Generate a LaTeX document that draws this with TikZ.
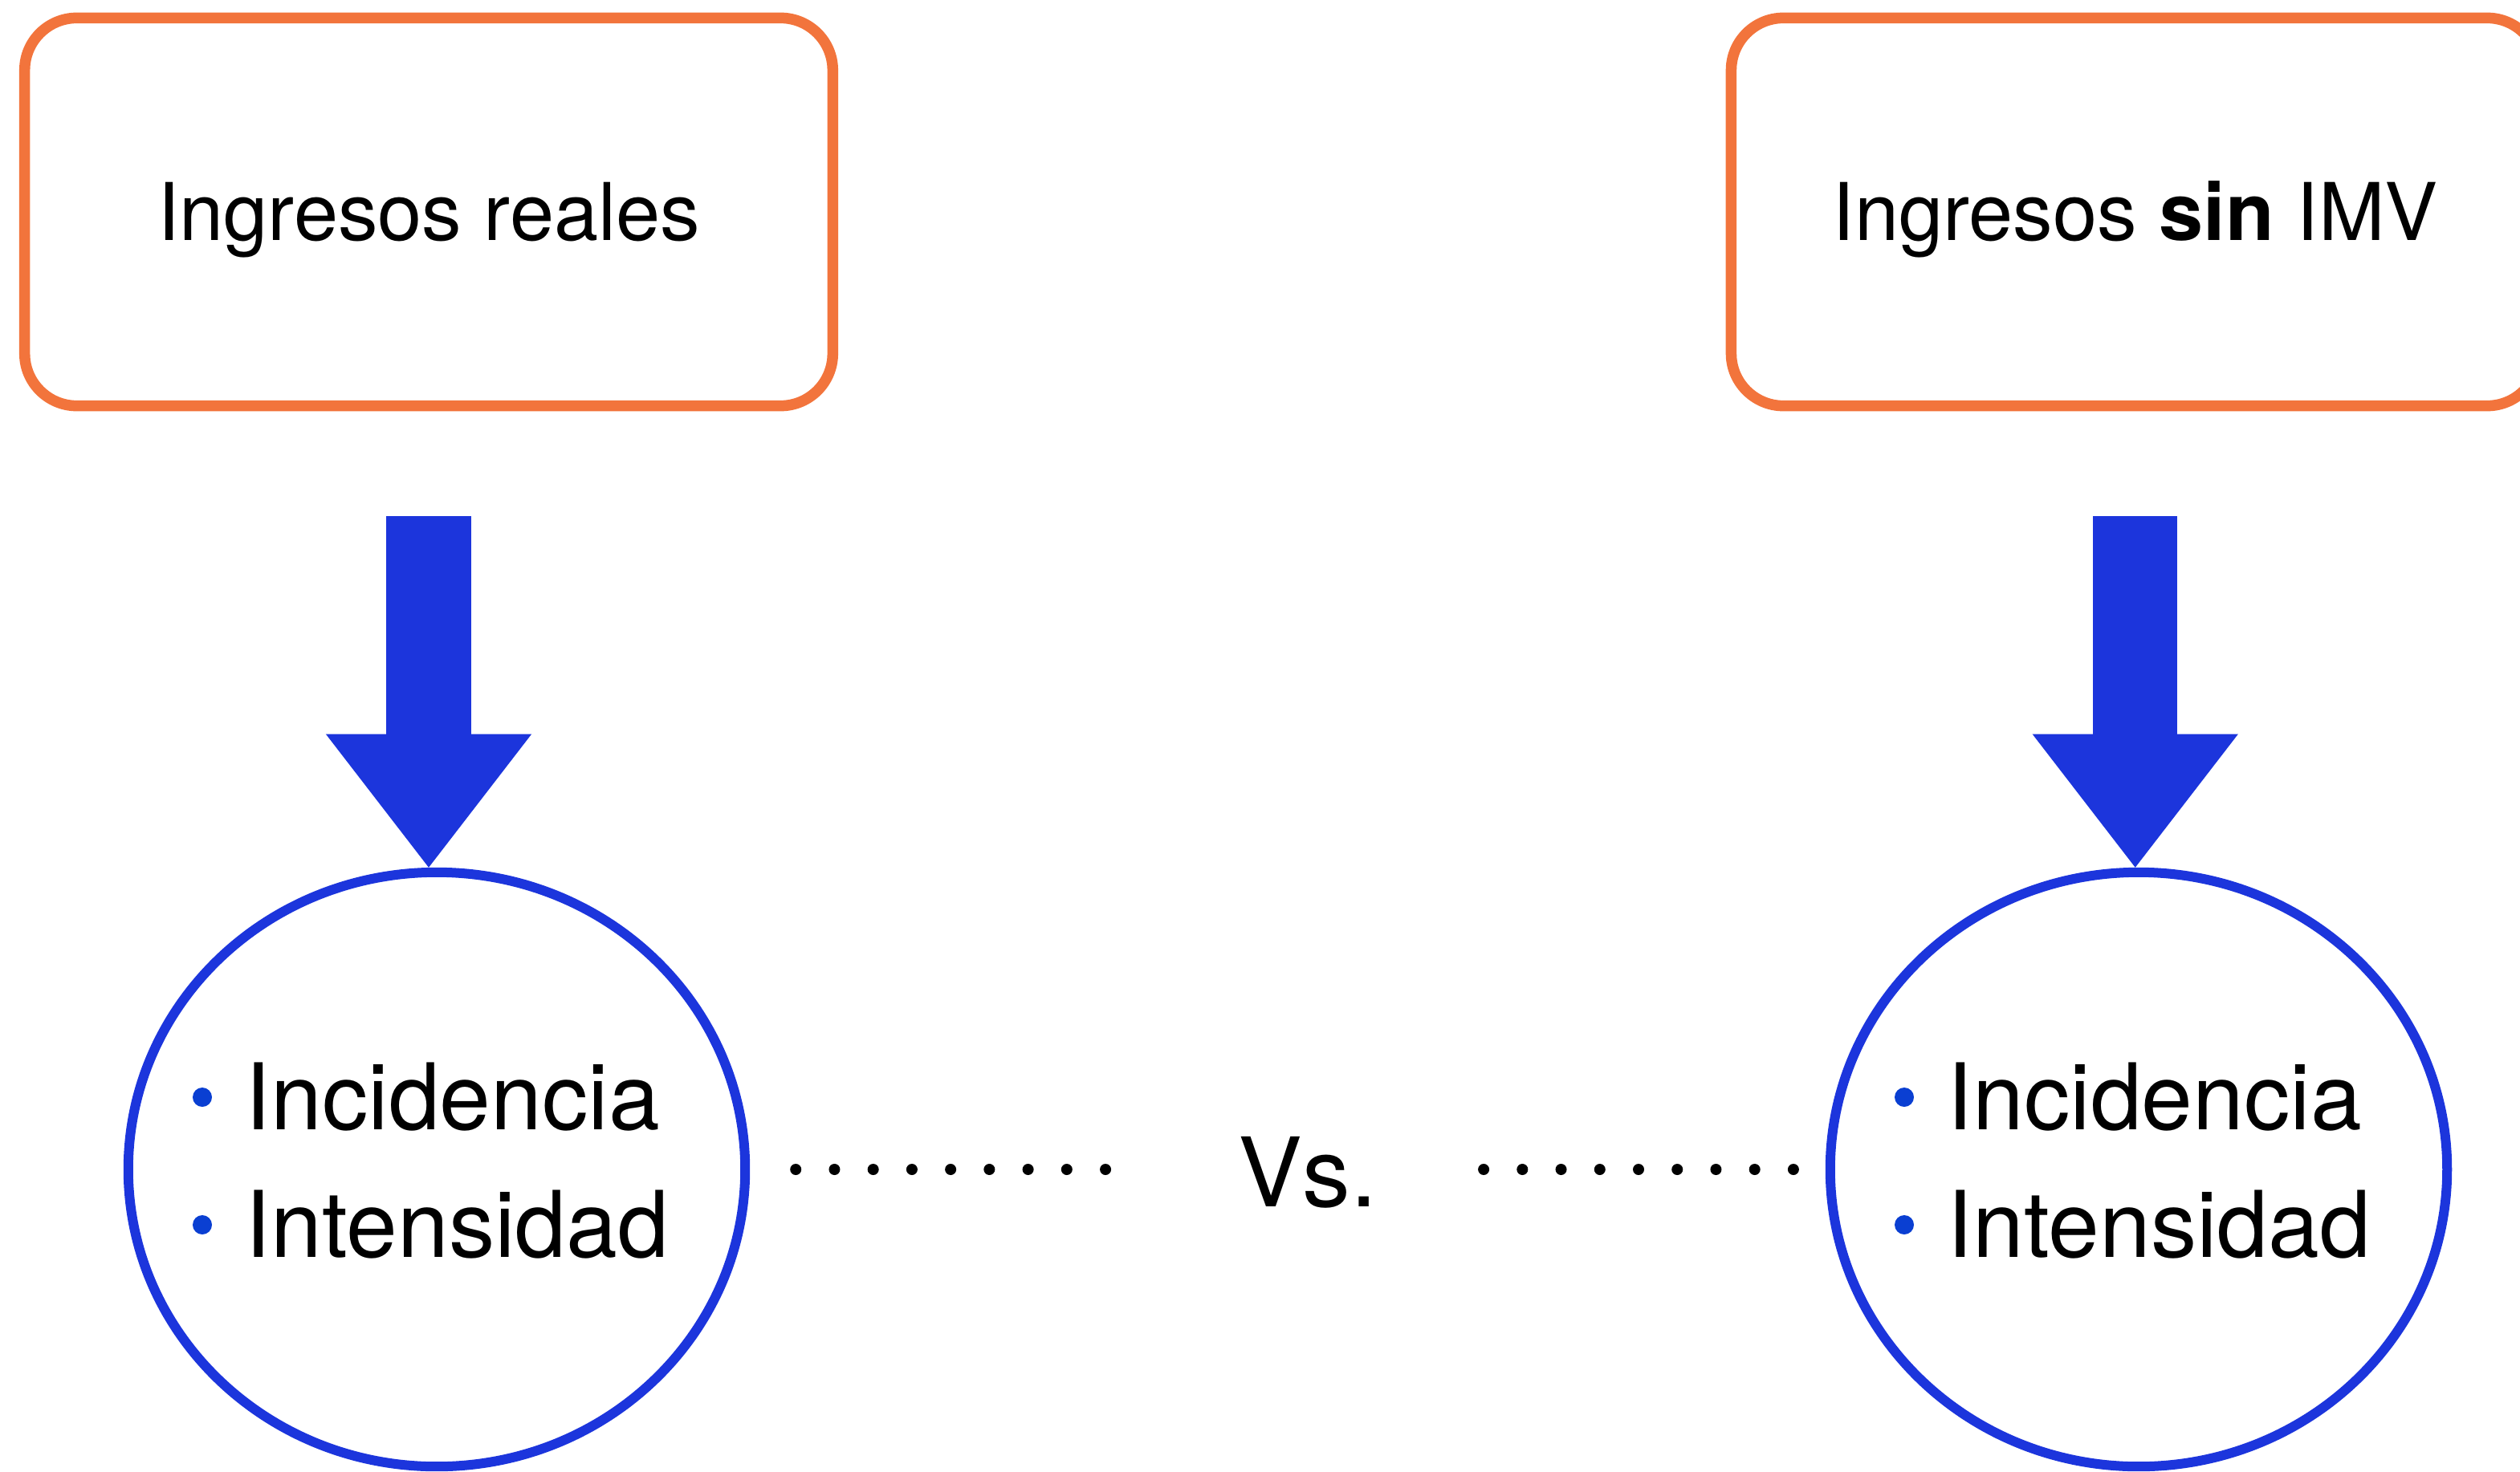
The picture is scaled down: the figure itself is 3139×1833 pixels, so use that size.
\documentclass[tikz,border=0pt]{standalone}
\usepackage{fontspec}
\setmainfont{TeX Gyre Heros}
\usetikzlibrary{positioning,shapes.geometric,arrows.meta,calc}

\definecolor{boxorange}{HTML}{F2743C}
\definecolor{ringblue}{HTML}{1C35DC}
\definecolor{dotblue}{HTML}{0A3FD2}

\tikzset{
  inbox/.style={draw=boxorange, line width=0.135cm, rounded corners=0.65cm,
    minimum width=10.06cm, minimum height=4.83cm, inner sep=0pt,
    text height=20.2pt, text depth=0pt, font=\fontsize{28.2}{34}\selectfont},
  ring/.style={draw=ringblue, ellipse, line width=0.12cm,
    minimum width=7.68cm, minimum height=7.40cm, inner sep=0pt},
  itemtext/.style={anchor=base west, inner sep=0pt, font=\fontsize{32.6}{38}\selectfont},
  itemdot/.style={circle, fill=dotblue, minimum size=0.24cm, inner sep=0pt},
  bigarrow/.style={ringblue, line width=1.05cm,
    -{Triangle[width=2.56cm, length=1.66cm, line width=0pt]}},
  dotline/.style={line width=0.14cm, line cap=round, dash pattern=on 0pt off 0.482cm},
}

\begin{document}
\begin{tikzpicture}[x=0.01cm, y=-0.01cm]
 \useasboundingbox (0,0) rectangle (3139,1833);
 \clip (0,0) rectangle (3139,1833);

 % income boxes
 \node[inbox] (lbox) at (534,264) {Ingresos reales};
 \node[inbox, right=11.05cm of lbox] (rbox) {Ingresos \textbf{sin} IMV};
 \coordinate[below=1.31cm of lbox] (la);
 \coordinate[below=1.31cm of rbox] (ra);

 % outcome circles
 \node[ring] (lc) at (544,1457) {};
 \node[ring] (rc) at (2664,1457) {};

 \draw[bigarrow] (la) -- (la |- lc.north);
 \draw[bigarrow] (ra) -- (ra |- rc.north);

 \foreach \c in {lc,rc} {
  \node[itemdot] (\c-d1) at ($(\c)+(-292,-90)$) {};
  \node[itemtext] (\c-t1) at ($(\c)+(-239,-50)$) {Incidencia};
  \node[itemdot] (\c-d2) at ($(\c)+(-292,69)$) {};
  \node[itemtext] (\c-t2) at ($(\c)+(-239,109)$) {Intensidad};
 }

 % comparison
 \node[inner sep=0pt, text height=24.4pt, text depth=0pt,
  font=\fontsize{34}{40}\selectfont] (vs) at (1629,1461) {Vs.};
 \draw[dotline] ($(lc.east)+(57,0)$) -- ($(lc.east -| vs.west)+(-163,0)$);
 \draw[dotline] ($(rc.west -| vs.east)+(132,0)$) -- ($(rc.west)+(-38,0)$);
\end{tikzpicture}
\end{document}
